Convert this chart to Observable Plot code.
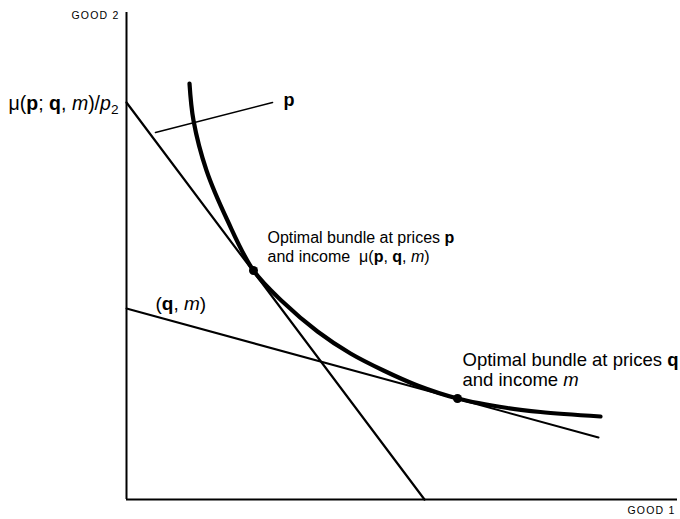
<!DOCTYPE html>
<html><head><meta charset="utf-8">
<script src="https://cdn.jsdelivr.net/npm/d3@7"></script>
<script src="https://cdn.jsdelivr.net/npm/@observablehq/plot@0.6"></script>
<style>body{margin:0;background:#fff} svg{display:block}</style>
</head><body><div id="chart"></div>
<script>
// Indifference curve
const curveX = [6.3, 6.7, 8.0, 10.1, 12.7, 15.7, 19.1, 22.4, 25.7, 29.1, 33.1, 38.1, 41.4, 47.4];
const curveY = [41.6, 37.9, 32.9, 27.9, 22.9, 19.7, 16.8, 14.6, 12.9, 11.4, 10.1, 9.15, 8.75, 8.3];
// Budget line at prices p, income mu(p; q, m)
const budgetPX = [0, 29.8];
const budgetPY = [39.7, 0];
// Budget line (q, m)
const budgetQX = [0, 47.2];
const budgetQY = [19.1, 6.2];
// Price vector p
const priceX = [2.9, 14.6];
const priceY = [36.7, 39.7];
// Optimal bundles
const optX = [12.7, 33.1];
const optY = [22.9, 10.1];
// Labels (markup: **bold**, _italic_, ~subscript~)
const labelTexts = ["GOOD 2", "μ(**p**; **q**, _m_)/_p_~2~", "**p**",
  "Optimal bundle at prices **p**", "and income  μ(**p**, **q**, _m_)",
  "(**q**, _m_)", "Optimal bundle at prices **q**", "and income _m_", "GOOD 1"];
const labelX = [-0.7, -0.8, 15.7, 14.1, 14.1, 2.9, 33.6, 33.6, 50.1];
const labelY = [48.4, 39.6, 39.9, 26.2, 24.3, 19.6, 13.9, 11.9, -1.1];
const labelAnchor = ["end", "end", "start", "start", "start", "start", "start", "start", "start"];
const labelSize = [10.5, 19.5, 18, 16, 16, 19, 18.5, 18.5, 10.5];

const toPts = (xs, ys) => xs.map((x, i) => ({x, y: ys[i]}));
const strip = s => s.replace(/\*\*|_|~/g, "");
const labels = labelTexts.map((t, i) => ({markup: t, text: strip(t), x: labelX[i], y: labelY[i], anchor: labelAnchor[i], size: labelSize[i]}));
const endLabels = labels.filter(d => d.anchor === "end");
const startLabels = labels.filter(d => d.anchor === "start");

const chart = Plot.plot({
  width: 680, height: 519,
  marginLeft: 126, marginRight: 3, marginTop: 12, marginBottom: 20,
  x: {domain: [0, 55.1], axis: null},
  y: {domain: [0, 48.7], axis: null},
  style: {fontFamily: "'Liberation Sans', Arial, Helvetica, sans-serif", background: "white", color: "black"},
  marks: [
    Plot.ruleX([0], {stroke: "black", strokeWidth: 2}),
    Plot.ruleY([0], {stroke: "black", strokeWidth: 2}),
    Plot.line(toPts(budgetPX, budgetPY), {x: "x", y: "y", stroke: "black", strokeWidth: 2.2}),
    Plot.line(toPts(budgetQX, budgetQY), {x: "x", y: "y", stroke: "black", strokeWidth: 2}),
    Plot.line(toPts(priceX, priceY), {x: "x", y: "y", stroke: "black", strokeWidth: 1.6}),
    Plot.line(toPts(curveX, curveY), {x: "x", y: "y", curve: "catmull-rom", stroke: "black", strokeWidth: 4.2, strokeLinecap: "round"}),
    Plot.dot(toPts(optX, optY), {x: "x", y: "y", r: 4.5, fill: "black", stroke: null}),
    Plot.text(endLabels, {x: "x", y: "y", text: "text", fontSize: "size", textAnchor: "end", fill: "black"}),
    Plot.text(startLabels, {x: "x", y: "y", text: "text", fontSize: "size", textAnchor: "start", fill: "black"})
  ]
});
document.getElementById("chart").appendChild(chart);

// Rich text: replace plain content with styled tspans
function parse(s) {
  const re = /\*\*(.+?)\*\*|_(.+?)_|~(.+?)~|([^*_~]+)/g;
  const out = []; let m;
  while ((m = re.exec(s))) {
    if (m[1] != null) out.push({t: m[1], st: "b"});
    else if (m[2] != null) out.push({t: m[2], st: "i"});
    else if (m[3] != null) out.push({t: m[3], st: "sub"});
    else out.push({t: m[4], st: ""});
  }
  return out;
}
const groups = chart.querySelectorAll('g[aria-label="text"]');
[endLabels, startLabels].forEach((arr, gi) => {
  const texts = groups[gi].querySelectorAll("text");
  texts.forEach((el, i) => {
    const d = arr[i];
    el.textContent = "";
    el.setAttribute("xml:space", "preserve");
    el.style.whiteSpace = "pre";
    if (d.text.startsWith("GOOD")) el.setAttribute("letter-spacing", "1.2");
    parse(d.markup).forEach(p => {
      const ts = document.createElementNS("http://www.w3.org/2000/svg", "tspan");
      ts.textContent = p.t;
      if (p.st === "b") ts.setAttribute("font-weight", "bold");
      if (p.st === "i") ts.setAttribute("font-style", "italic");
      if (p.st === "sub") { ts.setAttribute("font-size", "0.7em"); ts.setAttribute("dy", "0.3em"); }
      el.appendChild(ts);
    });
  });
});
</script>
</body></html>
